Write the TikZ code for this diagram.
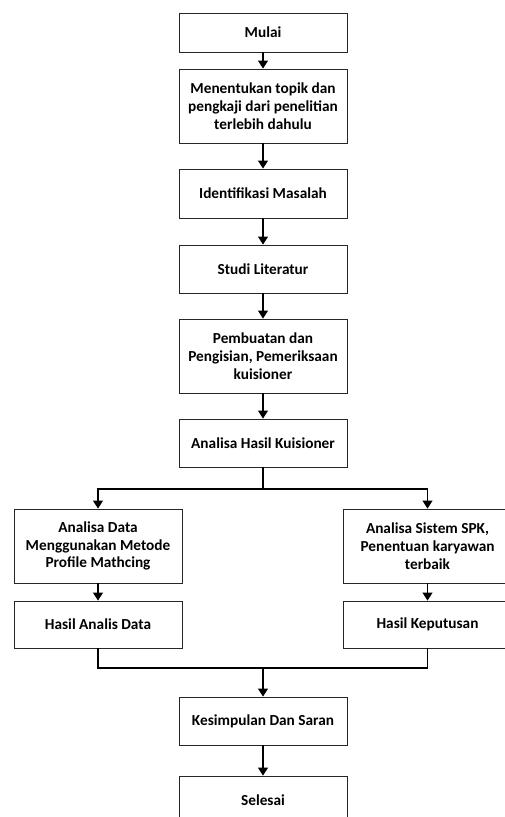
\documentclass[tikz,border=0pt]{standalone}
\usepackage{fontspec}
\setmainfont{Carlito}
\usetikzlibrary{arrows.meta}
\begin{document}
\begin{tikzpicture}[x=1pt,y=-1pt,
  box/.style={draw=black!85,line width=0.9pt,fill=white,align=center,inner sep=2pt,
    font=\fontsize{15.3}{17.9}\selectfont\bfseries,text=black,minimum width=168pt},
  conn/.style={draw=black,line width=1.2pt},
  arr/.style={conn,-{Triangle[width=10pt,length=8pt]}}]
\useasboundingbox (0,0) rectangle (505,817);
\clip (0,0) rectangle (505,817);
\node[box,minimum height=39pt] (mulai) at (263,32.5) {Mulai};
\node[box,minimum height=74pt] (topik) at (263,106) {Menentukan topik dan\\pengkaji dari penelitian\\terlebih dahulu};
\node[box,minimum height=49pt] (ident) at (263,193.5) {Identifikasi Masalah};
\node[box,minimum height=48pt] (studi) at (263,269) {Studi Literatur};
\node[box,minimum height=74pt] (buat) at (263,356) {Pembuatan dan\\Pengisian, Pemeriksaan\\kuisioner};
\node[box,minimum height=48pt] (hasilk) at (263,443) {Analisa Hasil Kuisioner};
\node[box,minimum height=74pt] (adata) at (98,546) {Analisa Data\\Menggunakan Metode\\Profile Mathcing};
\node[box,minimum height=47pt] (hdata) at (98,624.5) {Hasil Analis Data};
\node[box,minimum height=74pt,minimum width=169pt] (spk) at (427.5,546) {Analisa Sistem SPK,\\Penentuan karyawan\\terbaik};
\node[box,minimum height=47pt,minimum width=169pt] (hkep) at (427.5,624.5) {Hasil Keputusan};
\node[box,minimum height=48pt] (kes) at (263,721) {Kesimpulan Dan Saran};
\node[box,minimum height=48pt] (sel) at (263,800) {Selesai};
\coordinate (split) at (263,489);
\coordinate (merge) at (263,668);
\draw[arr] (mulai) -- (topik);
\draw[arr] (topik) -- (ident);
\draw[arr] (ident) -- (studi);
\draw[arr] (studi) -- (buat);
\draw[arr] (buat) -- (hasilk);
\draw[conn] (hasilk) -- (split);
\draw[arr] (split) -| (adata.north);
\draw[arr] (split) -| (spk.north);
\draw[arr] (adata) -- (hdata);
\draw[arr] (spk) -- (hkep);
\draw[conn] (hdata.south) |- (merge) -| (hkep.south);
\draw[arr] (merge) -- (kes);
\draw[arr] (kes) -- (sel);
\end{tikzpicture}
\end{document}
